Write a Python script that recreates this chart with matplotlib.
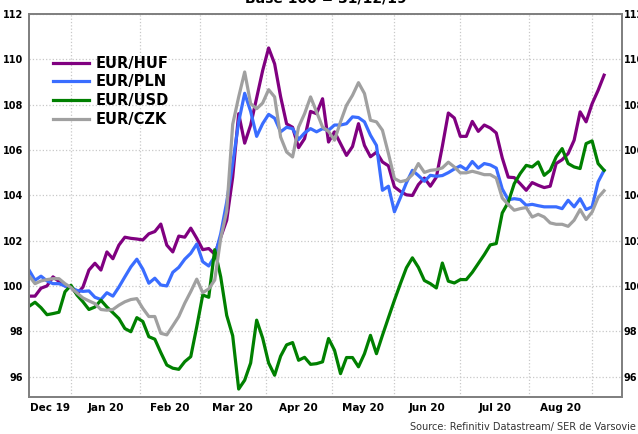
import numpy as np
import pandas as pd
import matplotlib
matplotlib.use('Agg')
import matplotlib.pyplot as plt

# Base 100 = 31/12/19, one value every second working day from 12/12/19
dates = pd.bdate_range('2019-12-12', periods=97, freq='2B')

eur_huf = [99.55, 99.55, 99.9, 100.0, 100.4, 100.2, 100.0, 99.95, 99.65, 99.95,
           100.7, 101.0, 100.7, 101.5, 101.2, 101.8, 102.15, 102.1, 102.07, 102.03,
           102.3, 102.4, 102.73, 101.8, 101.5, 102.2, 102.15, 102.55, 102.1, 101.6,
           101.65, 101.4, 102.15, 102.9, 104.8, 107.6, 106.3, 107.1, 108.3, 109.5,
           110.5, 109.8, 108.35, 107.15, 107.0, 106.1, 106.5, 107.7, 107.6, 108.26,
           106.35, 106.8, 106.28, 105.76, 106.15, 107.16, 106.2, 105.7, 105.9, 105.47,
           105.3, 104.37, 104.17, 104.02, 103.99, 104.47, 104.76, 104.4, 104.8, 106.16,
           107.63, 107.41, 106.6, 106.6, 107.26, 106.82, 107.1, 106.97, 106.75, 105.65,
           104.8, 104.78, 104.51, 104.22, 104.56, 104.44, 104.34, 104.4, 105.4, 105.57,
           105.84, 106.43, 107.68, 107.24, 108.04, 108.63, 109.3]

eur_pln = [100.7, 100.25, 100.43, 100.22, 100.1, 100.1, 100.0, 99.93, 99.8, 99.76,
           99.78, 99.5, 99.4, 99.7, 99.55, 99.95, 100.4, 100.84, 101.18, 100.74,
           100.12, 100.34, 100.04, 100.0, 100.6, 100.82, 101.18, 101.44, 101.85, 101.07,
           100.88, 101.3, 102.3, 103.7, 105.4, 107.24, 108.5, 107.7, 106.6, 107.16,
           107.57, 107.4, 106.8, 107.0, 106.94, 106.46, 106.75, 106.94, 106.8, 106.94,
           106.87, 107.1, 107.1, 107.16, 107.46, 107.43, 107.24, 106.65, 106.2, 104.22,
           104.4, 103.27, 103.9, 104.55, 105.1, 104.87, 104.62, 104.88, 104.84, 104.87,
           105.0, 105.16, 105.3, 105.13, 105.49, 105.2, 105.4, 105.34, 105.2, 104.28,
           103.8, 103.85, 103.81, 103.56, 103.6, 103.54, 103.49, 103.49, 103.49, 103.41,
           103.78, 103.49, 103.85, 103.37, 103.49, 104.59, 105.1]

eur_usd = [99.1, 99.28, 99.04, 98.73, 98.78, 98.84, 99.74, 100.03, 99.6, 99.3,
           98.96, 99.07, 99.37, 99.07, 98.82, 98.56, 98.12, 97.98, 98.6, 98.43,
           97.76, 97.65, 97.06, 96.51, 96.37, 96.32, 96.66, 96.88, 98.2, 99.6,
           99.5, 101.6, 100.4, 98.7, 97.8, 95.45, 95.84, 96.6, 98.49, 97.7,
           96.6, 96.06, 96.9, 97.4, 97.5, 96.72, 96.85, 96.54, 96.57, 96.65,
           97.68, 97.16, 96.13, 96.84, 96.84, 96.43, 97.01, 97.82, 97.01, 97.82,
           98.6, 99.37, 100.1, 100.8, 101.24, 100.82, 100.24, 100.1, 99.91, 101.01,
           100.21, 100.13, 100.28, 100.28, 100.6, 100.99, 101.38, 101.81, 101.87, 103.22,
           103.69, 104.51, 104.96, 105.32, 105.25, 105.47, 104.88, 105.1, 105.69, 106.06,
           105.4, 105.25, 105.18, 106.28, 106.4, 105.4, 105.1]

eur_czk = [100.45, 100.1, 100.22, 100.28, 100.32, 100.32, 100.1, 99.93, 99.69, 99.47,
           99.34, 99.22, 98.96, 98.93, 98.96, 99.15, 99.3, 99.4, 99.44, 99.01,
           98.65, 98.65, 97.91, 97.84, 98.24, 98.65, 99.24, 99.75, 100.3, 99.7,
           99.87, 100.26, 102.1, 103.3, 107.13, 108.34, 109.44, 108.04, 107.82, 108.07,
           108.66, 108.34, 106.57, 105.91, 105.69, 107.01, 107.6, 108.34, 107.68, 107.01,
           106.82, 106.43, 107.24, 107.97, 108.41, 108.97, 108.49, 107.31, 107.24, 106.87,
           105.84, 104.74, 104.6, 104.66, 104.91, 105.4, 105.01, 105.1, 105.13, 105.21,
           105.46, 105.25, 104.99, 104.99, 105.06, 104.99, 104.91, 104.91, 104.76, 103.88,
           103.59, 103.34, 103.41, 103.46, 103.04, 103.16, 103.04, 102.78, 102.72, 102.72,
           102.63, 102.9, 103.37, 102.93, 103.26, 103.9, 104.2]

labels = ['EUR/HUF', 'EUR/PLN', 'EUR/USD', 'EUR/CZK']
colors = ['#800080', '#3a6dff', '#008000', '#a0a0a0']
months = ['Dec 19', 'Jan 20', 'Feb 20', 'Mar 20', 'Apr 20', 'May 20', 'Jun 20', 'Jul 20', 'Aug 20']
yticks = [96, 98, 100, 102, 104, 106, 108, 110, 112]

# x axis counts working days, like the Datastream chart
days = pd.bdate_range('2019-12-12', '2020-09-30')
pos = {d: i for i, d in enumerate(days)}
x = [pos[d] for d in dates]
month_starts = [i for i in range(1, len(days)) if days[i].month != days[i - 1].month]
edges = [0] + month_starts
mids = [(a + b) / 2 for a, b in zip(edges[:-1], edges[1:])][:len(months)]

fig = plt.figure(figsize=(6.38, 4.34), dpi=100)
ax = fig.add_axes([0.0455, 0.0853, 0.9295, 0.8825])

for vals, lab, col in zip([eur_huf, eur_pln, eur_usd, eur_czk], labels, colors):
    ax.plot(x, vals, color=col, lw=2.3, label=lab, solid_joinstyle='round')

ax.set_xlim(0, 198)
ax.set_ylim(95.1, 112)
ax.set_yticks(yticks)
ax.set_yticklabels([str(v) for v in yticks], fontsize=7, fontweight='bold')
ax.set_xticks(month_starts[:9])
ax.set_xticklabels([])
ax.set_xticks(mids, minor=True)
ax.set_xticklabels(months, minor=True, fontsize=7.5, fontweight='bold')
ax.tick_params(axis='both', which='both', length=0)
ax.tick_params(axis='y', pad=4)
ax.tick_params(axis='x', which='minor', pad=4)
ax.grid(True, which='major', color='#c8c8c8', linestyle=':', linewidth=0.9)
for s in ax.spines.values():
    s.set_color('#808080')
    s.set_linewidth(1.3)

# right hand scale, cut by the edge of the picture as in the original
ax2 = ax.twinx()
ax2.set_ylim(ax.get_ylim())
ax2.set_yticks(yticks)
ax2.set_yticklabels([str(v) for v in yticks], fontsize=7, fontweight='bold')
ax2.tick_params(length=0, pad=1)
for s in ax2.spines.values():
    s.set_color('#808080')
    s.set_linewidth(1.3)

ax.legend(loc='upper left', bbox_to_anchor=(0.018, 0.925), frameon=False,
          prop={'size': 10.5, 'weight': 'bold'}, handlelength=2.5,
          handletextpad=0.45, labelspacing=0.25)

fig.text(0.51, 0.995, 'Base 100 = 31/12/19', ha='center', va='baseline',
         fontsize=10, fontweight='bold')
fig.text(0.997, 0.004, 'Source: Refinitiv Datastream/ SER de Varsovie', ha='right',
         va='bottom', fontsize=7, color='#333333')

fig.savefig('out.png', dpi=100)
